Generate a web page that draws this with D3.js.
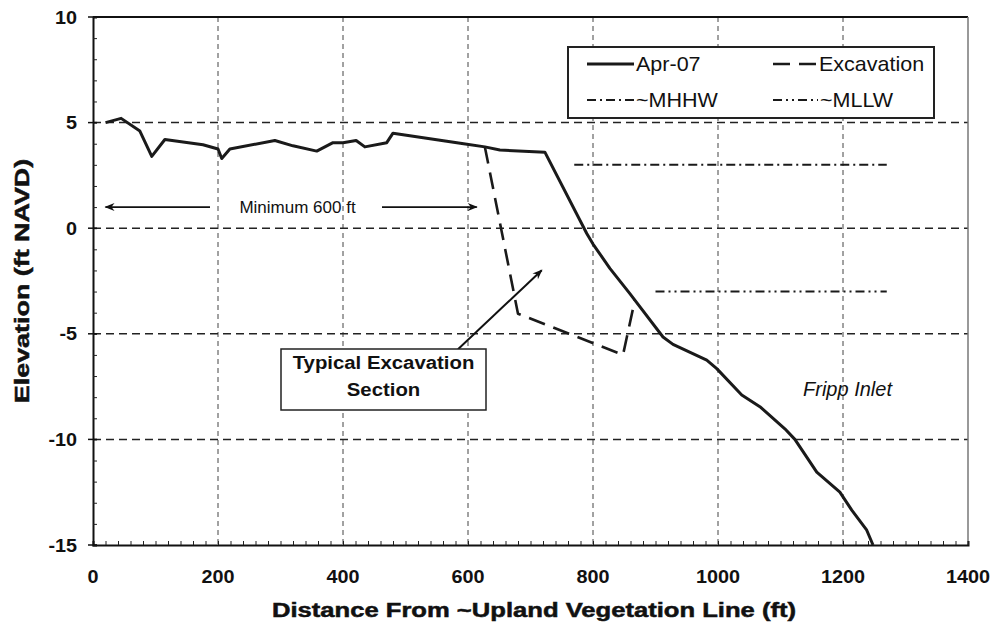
<!DOCTYPE html>
<html>
<head>
<meta charset="utf-8">
<script src="https://cdn.jsdelivr.net/npm/d3@7"></script>
<style>
  html, body { margin: 0; padding: 0; background: #fff; }
  svg { display: block; }
  text { font-family: "Liberation Sans", Arial, sans-serif; fill: #111; }
</style>
</head>
<body>
<svg id="chart" width="991" height="627"></svg>
<script>
// ---------------- DATA ----------------
const aprX = [20, 45, 75, 94, 115, 176, 200, 206, 219, 291, 320, 358, 384, 400, 421, 435, 470, 480, 593, 627, 651, 723, 790, 800, 827, 859, 912, 928, 982, 998, 1038, 1067, 1107, 1123, 1158, 1195, 1214, 1238, 1248];
const aprY = [5.0, 5.2, 4.6, 3.4, 4.2, 3.95, 3.75, 3.3, 3.75, 4.15, 3.9, 3.65, 4.05, 4.05, 4.15, 3.85, 4.05, 4.5, 4.0, 3.85, 3.7, 3.6, -0.25, -0.75, -1.9, -3.1, -5.15, -5.5, -6.25, -6.65, -7.9, -8.45, -9.5, -10.0, -11.55, -12.5, -13.35, -14.3, -15.0];
const excX = [627, 680, 848, 867];
const excY = [3.85, -4.05, -6.0, -3.4];
const mhhwX = [770, 1270];
const mhhwY = [3, 3];
const mllwX = [900, 1270];
const mllwY = [-3, -3];
const xTicks = [0, 200, 400, 600, 800, 1000, 1200, 1400];
const yTicks = [10, 5, 0, -5, -10, -15];
const legendLabels = ["Apr-07", "Excavation", "~MHHW", "~MLLW"];
const xTitle = "Distance From ~Upland Vegetation Line (ft)";
const yTitle = "Elevation (ft NAVD)";
const spanLabel = "Minimum 600 ft";
const spanFrom = 20, spanTo = 614, spanElev = 1.0;
const boxLines = ["Typical Excavation", "Section"];
const inletLabel = "Fripp Inlet";

// ---------------- LAYOUT ----------------
const svg = d3.select("#chart");
const pL = 93, pR = 968, pT = 17, pB = 545;
const x = d3.scaleLinear().domain([0, 1400]).range([pL, pR]);
const y = d3.scaleLinear().domain([-15, 10]).range([pB, pT]);

function stext(g, tx, ty, str, opts) {
  const sx = opts.sx || 1;
  const t = g.append("text")
    .attr("transform", `translate(${tx},${ty}) scale(${sx},1)`)
    .attr("text-anchor", opts.anchor || "start")
    .style("font-size", opts.size + "px")
    .style("font-weight", opts.weight || "normal")
    .style("font-style", opts.style || "normal")
    .text(str);
  if (opts.stroke) t.style("stroke", "#111").style("stroke-width", opts.stroke);
  return t;
}

// gridlines
svg.append("g").selectAll("line").data(xTicks.filter(d => d > 0 && d < 1400)).join("line")
  .attr("x1", d => x(d)).attr("x2", d => x(d)).attr("y1", pT).attr("y2", pB)
  .attr("stroke", "#444").attr("stroke-width", 1).attr("stroke-dasharray", "5,4");
svg.append("g").selectAll("line").data(yTicks.filter(d => d > -15 && d < 10)).join("line")
  .attr("x1", pL).attr("x2", pR).attr("y1", d => y(d)).attr("y2", d => y(d))
  .attr("stroke", "#222").attr("stroke-width", 1.5).attr("stroke-dasharray", "8,5");

// frame: top and right
svg.append("line").attr("x1", pL).attr("x2", pR).attr("y1", pT).attr("y2", pT)
  .attr("stroke", "#111").attr("stroke-width", 2);
svg.append("line").attr("x1", pR).attr("x2", pR).attr("y1", pT).attr("y2", pB)
  .attr("stroke", "#777").attr("stroke-width", 1.5);

// axes
const xAxis = d3.axisBottom(x).tickValues(d3.range(0, 1401, 20)).tickSize(-4).tickFormat("");
const gx = svg.append("g").attr("transform", `translate(0,${pB})`).call(xAxis);
gx.select(".domain").attr("stroke", "#111").attr("stroke-width", 2);
gx.selectAll(".tick line").attr("stroke", "#222").attr("stroke-width", 1);

const yAxis = d3.axisLeft(y).tickValues(d3.range(-15, 11, 1)).tickSize(-4).tickFormat("");
const gy = svg.append("g").attr("transform", `translate(${pL},0)`).call(yAxis);
gy.select(".domain").attr("stroke", "#111").attr("stroke-width", 2);
gy.selectAll(".tick line").attr("stroke", "#222").attr("stroke-width", 1);
svg.append("g").selectAll("line").data(yTicks).join("line")
  .attr("x1", pL - 5).attr("x2", pL + 4).attr("y1", d => y(d)).attr("y2", d => y(d))
  .attr("stroke", "#111").attr("stroke-width", 1.5);

// tick labels
const tl = svg.append("g");
xTicks.forEach(d => stext(tl, x(d), 583, String(d), {size: 18, weight: "bold", anchor: "middle", sx: 1.1}));
yTicks.forEach(d => stext(tl, 77, y(d) + 6.5, String(d), {size: 18, weight: "bold", anchor: "end", sx: 1.1}));

// axis titles
stext(svg, 534, 617, xTitle, {size: 20, weight: "bold", anchor: "middle", sx: 1.28, stroke: 0.5});
svg.append("text")
  .attr("transform", `translate(29,${(pT + pB) / 2}) rotate(-90) scale(1.28,1)`)
  .attr("text-anchor", "middle")
  .style("font-size", "21px").style("font-weight", "bold")
  .style("stroke", "#111").style("stroke-width", 0.5)
  .text(yTitle);

// lines
const line = d3.line().x(d => x(d[0])).y(d => y(d[1]));
const apr = aprX.map((v, i) => [v, aprY[i]]);
const exc = excX.map((v, i) => [v, excY[i]]);
const mhhw = mhhwX.map((v, i) => [v, mhhwY[i]]);
const mllw = mllwX.map((v, i) => [v, mllwY[i]]);

const styles = {
  apr: {stroke: "#1a1a1a", width: 3, dash: null},
  exc: {stroke: "#1a1a1a", width: 2.6, dash: "17,9"},
  mhhw: {stroke: "#1a1a1a", width: 2, dash: "9,4,2,4"},
  mllw: {stroke: "#1a1a1a", width: 2, dash: "9,4,2,4,2,4"}
};
function drawLine(data, st) {
  svg.append("path").datum(data).attr("d", line)
    .attr("fill", "none").attr("stroke", st.stroke).attr("stroke-width", st.width)
    .attr("stroke-linejoin", "round")
    .attr("stroke-dasharray", st.dash);
}
drawLine(mhhw, styles.mhhw);
drawLine(mllw, styles.mllw);
drawLine(exc, styles.exc);
drawLine(apr, styles.apr);

// arrow marker
const defs = svg.append("defs");
defs.append("marker").attr("id", "arr").attr("viewBox", "0 0 10 10")
  .attr("refX", 9).attr("refY", 5).attr("markerWidth", 12).attr("markerHeight", 10)
  .attr("markerUnits", "userSpaceOnUse").attr("orient", "auto")
  .append("path").attr("d", "M0,1 L10,5 L0,9 L3,5 Z").attr("fill", "#111");

// Minimum 600 ft annotation
const ay = y(spanElev);
svg.append("line").attr("x1", 210).attr("x2", x(spanFrom)).attr("y1", ay).attr("y2", ay)
  .attr("stroke", "#111").attr("stroke-width", 1.8).attr("marker-end", "url(#arr)");
svg.append("line").attr("x1", 382).attr("x2", x(spanTo)).attr("y1", ay).attr("y2", ay)
  .attr("stroke", "#111").attr("stroke-width", 1.8).attr("marker-end", "url(#arr)");
stext(svg, 297.5, ay + 6, spanLabel, {size: 17, anchor: "middle", sx: 1.0});

// Typical Excavation Section box + arrow
svg.append("line").attr("x1", x(584)).attr("y1", y(-5.73)).attr("x2", x(718)).attr("y2", y(-1.99))
  .attr("stroke", "#111").attr("stroke-width", 2).attr("marker-end", "url(#arr)");
svg.append("rect").attr("x", 281).attr("y", 349).attr("width", 205).attr("height", 61)
  .attr("fill", "#fff").attr("stroke", "#222").attr("stroke-width", 1.5);
stext(svg, 383.5, 369, boxLines[0], {size: 18.5, weight: "bold", anchor: "middle", sx: 1.1});
stext(svg, 383.5, 396, boxLines[1], {size: 18.5, weight: "bold", anchor: "middle", sx: 1.1});

// Fripp Inlet
stext(svg, 847.5, 396, inletLabel, {size: 20, style: "italic", anchor: "middle"});

// Legend
const lg = svg.append("g");
lg.append("rect").attr("x", 568).attr("y", 47).attr("width", 366).attr("height", 71)
  .attr("fill", "#fff").attr("stroke", "#222").attr("stroke-width", 2);
const legItems = [
  {label: legendLabels[0], st: styles.apr, x0: 587, x1: 634, ty: 64},
  {label: legendLabels[1], st: styles.exc, x0: 773, x1: 817, ty: 64},
  {label: legendLabels[2], st: styles.mhhw, x0: 587, x1: 634, ty: 100},
  {label: legendLabels[3], st: styles.mllw, x0: 773, x1: 818, ty: 100}
];
legItems.forEach(it => {
  lg.append("line").attr("x1", it.x0).attr("x2", it.x1).attr("y1", it.ty).attr("y2", it.ty)
    .attr("stroke", it.st.stroke).attr("stroke-width", it.st.width)
    .attr("stroke-dasharray", it.st.dash);
  stext(lg, it.x1 + 2, it.ty + 7, it.label, {size: 20.5, sx: 1.05});
});
</script>
</body>
</html>
